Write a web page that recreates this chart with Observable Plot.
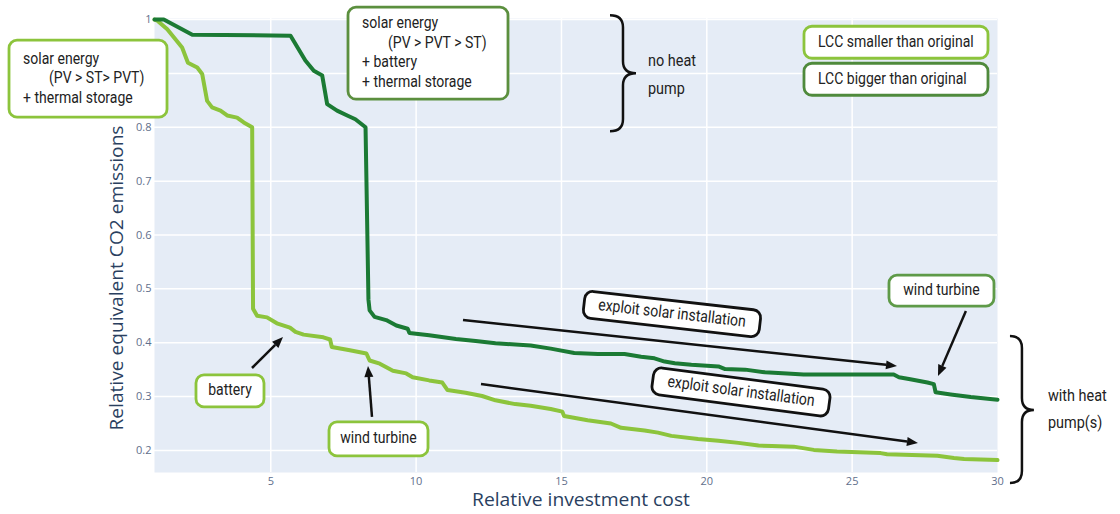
<!DOCTYPE html>
<html><head><meta charset="utf-8">
<script src="https://cdn.jsdelivr.net/npm/d3@7"></script>
<script src="https://cdn.jsdelivr.net/npm/@observablehq/plot@0.6"></script>
<style>
html,body{margin:0;padding:0;background:#fff;}
#chart svg{display:block;}
</style></head><body><div id="chart"></div>
<script>
// ---- data ----
const seriesNames = ["LCC smaller than original", "LCC bigger than original"];
const xTicks = [5, 10, 15, 20, 25, 30];
const yTicks = [0.2, 0.3, 0.4, 0.5, 0.6, 0.7, 0.8, 0.9, 1];
const yTickLabels = [0.2, 0.3, 0.4, 0.5, 0.6, 0.7, 0.8, 1]; // 0.9 is hidden behind a note box

const lightX = [1.0, 1.1, 1.44, 1.95, 2.15, 2.47, 2.64, 2.81, 2.98, 3.27, 3.5, 3.84, 4.07, 4.36, 4.39, 4.53, 4.87, 5.21, 5.66, 5.85, 6.13, 6.81, 7.04, 7.1, 7.72, 8.29, 8.4, 8.75, 9.2, 9.66, 9.88, 10.45, 10.9, 11.08, 11.7, 12.27, 12.73, 13.41, 13.94, 14.63, 15.03, 15.09, 15.9, 16.7, 17.05, 17.86, 18.32, 18.78, 19.7, 20.4, 21.09, 21.78, 22.24, 22.99, 23.68, 24.48, 25.98, 26.2, 27.93, 28.5, 28.85, 30];
const lightY = [1.0, 0.998, 0.982, 0.948, 0.92, 0.911, 0.899, 0.849, 0.837, 0.831, 0.822, 0.818, 0.809, 0.8, 0.463, 0.45, 0.447, 0.436, 0.428, 0.42, 0.415, 0.41, 0.406, 0.392, 0.386, 0.38, 0.367, 0.361, 0.348, 0.343, 0.336, 0.33, 0.326, 0.312, 0.307, 0.301, 0.293, 0.286, 0.283, 0.277, 0.272, 0.264, 0.256, 0.25, 0.242, 0.237, 0.233, 0.227, 0.221, 0.218, 0.214, 0.209, 0.208, 0.207, 0.201, 0.198, 0.195, 0.193, 0.19, 0.186, 0.184, 0.182];

const darkX = [1.0, 1.32, 2.3, 5.68, 6.19, 6.48, 6.77, 6.94, 7.28, 7.63, 7.91, 8.26, 8.36, 8.4, 8.57, 8.97, 9.32, 9.71, 9.77, 10.45, 11.37, 12.05, 12.73, 13.94, 14.63, 15.44, 16.25, 17.17, 17.74, 18.2, 18.55, 18.9, 19.47, 20.4, 20.63, 21.32, 22.0, 22.76, 23.33, 26.43, 26.61, 27.0, 27.59, 27.81, 27.87, 28.39, 29.08, 30];
const darkY = [1.0, 1.0, 0.972, 0.97, 0.924, 0.905, 0.896, 0.843, 0.831, 0.822, 0.815, 0.8, 0.48, 0.46, 0.448, 0.442, 0.432, 0.426, 0.418, 0.414, 0.407, 0.403, 0.399, 0.395, 0.389, 0.381, 0.379, 0.379, 0.374, 0.371, 0.365, 0.362, 0.359, 0.356, 0.351, 0.35, 0.345, 0.343, 0.341, 0.341, 0.336, 0.332, 0.326, 0.323, 0.308, 0.304, 0.299, 0.294];

// ---- annotation layout (anchors in data units) ----
const boxNotes = [
  {x: -1.27, y: 0.8893, w: 158, h: 77, border: "#8cc43c", pad: 14, lines: [["solar energy", 0], ["(PV > ST> PVT)", 26], ["+ thermal storage", 0]]},
  {x: 10.426, y: 0.9366, w: 160, h: 92, border: "#5b8f3e", pad: 14, lines: [["solar energy", 0], ["(PV > PVT > ST)", 26], ["+ battery", 0], ["+ thermal storage", 0]]},
  {x: 3.614, y: 0.3095, w: 68, h: 32, border: "#8cc43c", center: true, lines: [["battery", 0]]},
  {x: 8.723, y: 0.2204, w: 99, h: 34, border: "#8cc43c", center: true, lines: [["wind turbine", 0]]},
  {x: 28.09, y: 0.4959, w: 105, h: 31, border: "#5e9a48", center: true, lines: [["wind turbine", 0]]},
  {x: 18.819, y: 0.4523, w: 177, h: 27, border: "#111", angle: 6.5, center: true, lines: [["exploit solar installation", 0]]},
  {x: 21.193, y: 0.3076, w: 178, h: 27, border: "#111", angle: 7.5, center: true, lines: [["exploit solar installation", 0]]}
];
const legendNotes = [
  {x: 26.525, y: 0.957, w: 184, h: 32, border: "#8cc43c", pad: 14, lines: [[seriesNames[0], 0]]},
  {x: 26.525, y: 0.8883, w: 184, h: 32, border: "#4f8a3c", pad: 14, lines: [[seriesNames[1], 0]]}
];
const arrows = [
  [4.371, 0.3521, 5.438, 0.4096],
  [8.499, 0.2612, 8.362, 0.3558],
  [28.93, 0.4579, 27.97, 0.3373],
  [11.63, 0.4412, 26.56, 0.3558],
  [12.249, 0.3224, 27.28, 0.213]
];
const braces = [
  {x0: 16.686, x1: 17.581, y0: 1.007, y1: 0.7918, ym: 0.8994},
  {x0: 30.446, x1: 31.27, y0: 0.4115, y1: 0.1388, ym: 0.2742}
];
const braceLabels = [
  {x: 17.994, y: 0.9217, t: "no heat"}, {x: 17.994, y: 0.8698, t: "pump"},
  {x: 31.754, y: 0.2983, t: "with heat"}, {x: 31.754, y: 0.2482, t: "pump(s)"}
];

const table = [
  ...lightX.map((x, i) => ({x, y: lightY[i], s: seriesNames[0]})),
  ...darkX.map((x, i) => ({x, y: darkY[i], s: seriesNames[1]}))
];

const chart = Plot.plot({
  width: 1120, height: 514,
  marginLeft: 154, marginRight: 123, marginTop: 18, marginBottom: 42,
  style: {background: "white", fontFamily: "'Open Sans', sans-serif", fontSize: "11px", color: "#5f6f8c"},
  x: {domain: [1, 30], ticks: xTicks, tickSize: 0, tickPadding: 5, label: null},
  y: {domain: [0.159, 1.002], ticks: yTickLabels, tickSize: 0, tickPadding: 3, label: null,
      tickFormat: d => d === 1 ? "1" : d3.format(".1f")(d)},
  color: {domain: seriesNames, range: ["#8cc43c", "#1b7a34"]},
  marks: [
    Plot.frame({fill: "#e5ecf6", stroke: "none"}),
    Plot.ruleX(xTicks.filter(d => d < 30), {stroke: "white", strokeWidth: 1.5}),
    Plot.ruleY(yTicks, {stroke: "white", strokeWidth: 1.5}),
    Plot.line(table, {x: "x", y: "y", z: "s", stroke: "s", strokeWidth: 4, strokeLinejoin: "round", strokeLinecap: "round"})
  ]
});
document.getElementById("chart").appendChild(chart);

const sx = v => chart.scale("x").apply(v);
const sy = v => chart.scale("y").apply(v);
const svg = d3.select(chart);
const noteFont = "'Roboto', 'Open Sans', sans-serif";

function noteText(parent, x, y, anchor, fs, t) {
  return parent.append("text").attr("transform", `translate(${x},${y}) scale(0.85,1)`)
    .attr("text-anchor", anchor).attr("dominant-baseline", "middle")
    .attr("font-family", noteFont).attr("font-size", fs).attr("fill", "#222").text(t);
}

// axis titles
svg.append("text").attr("x", 581).attr("y", 501).attr("text-anchor", "middle").attr("dominant-baseline", "middle")
  .attr("font-family", "'Open Sans', sans-serif").attr("font-size", 18).attr("fill", "#2a3f5f")
  .attr("textLength", 218).attr("lengthAdjust", "spacingAndGlyphs").text("Relative investment cost");
svg.append("text").attr("transform", "translate(118,278) rotate(-90)").attr("text-anchor", "middle").attr("dominant-baseline", "middle")
  .attr("font-family", "'Open Sans', sans-serif").attr("font-size", 18).attr("fill", "#2a3f5f")
  .attr("textLength", 305).attr("lengthAdjust", "spacingAndGlyphs").text("Relative equivalent CO2 emissions");

// arrows
const ag = svg.append("g");
arrows.forEach(([x1, y1, x2, y2]) => {
  const X1 = sx(x1), Y1 = sy(y1), X2 = sx(x2), Y2 = sy(y2);
  const a = Math.atan2(Y2 - Y1, X2 - X1), L = 11, W = 4.5;
  const bx = X2 - L * Math.cos(a), by = Y2 - L * Math.sin(a);
  ag.append("line").attr("x1", X1).attr("y1", Y1).attr("x2", bx).attr("y2", by).attr("stroke", "#111").attr("stroke-width", 2.5);
  ag.append("path").attr("d", `M${X2},${Y2}L${bx - W * Math.sin(a)},${by + W * Math.cos(a)}L${bx + W * Math.sin(a)},${by - W * Math.cos(a)}Z`).attr("fill", "#111");
});

// braces
braces.forEach(b => {
  const x0 = sx(b.x0), x1 = sx(b.x1), y0 = sy(b.y0), y1 = sy(b.y1), ym = sy(b.ym);
  const xm = (x0 + x1) / 2, r = 12;
  svg.append("path").attr("fill", "none").attr("stroke", "#111").attr("stroke-width", 2.5)
    .attr("d", `M${x0},${y0}Q${xm},${y0} ${xm},${y0 + r}L${xm},${ym - r}Q${xm},${ym} ${x1},${ym}Q${xm},${ym} ${xm},${ym + r}L${xm},${y1 - r}Q${xm},${y1} ${x0},${y1}`);
});
braceLabels.forEach(l => noteText(svg, sx(l.x), sy(l.y), "start", 17, l.t));

// boxes
function drawBox(n, fs) {
  const g = svg.append("g").attr("transform", `translate(${sx(n.x)},${sy(n.y)}) rotate(${n.angle || 0})`);
  g.append("rect").attr("x", -n.w / 2).attr("y", -n.h / 2).attr("width", n.w).attr("height", n.h)
    .attr("rx", 8).attr("fill", "white").attr("stroke", n.border).attr("stroke-width", 2.8);
  const lh = 19.5, top = -(n.lines.length - 1) * lh / 2;
  n.lines.forEach(([t, ind], i) => {
    noteText(g, n.center ? 0 : -n.w / 2 + n.pad + ind, top + i * lh, n.center ? "middle" : "start", fs, t);
  });
}
boxNotes.forEach(n => drawBox(n, 16.5));
legendNotes.forEach(n => drawBox(n, 16.5));
</script></body></html>
